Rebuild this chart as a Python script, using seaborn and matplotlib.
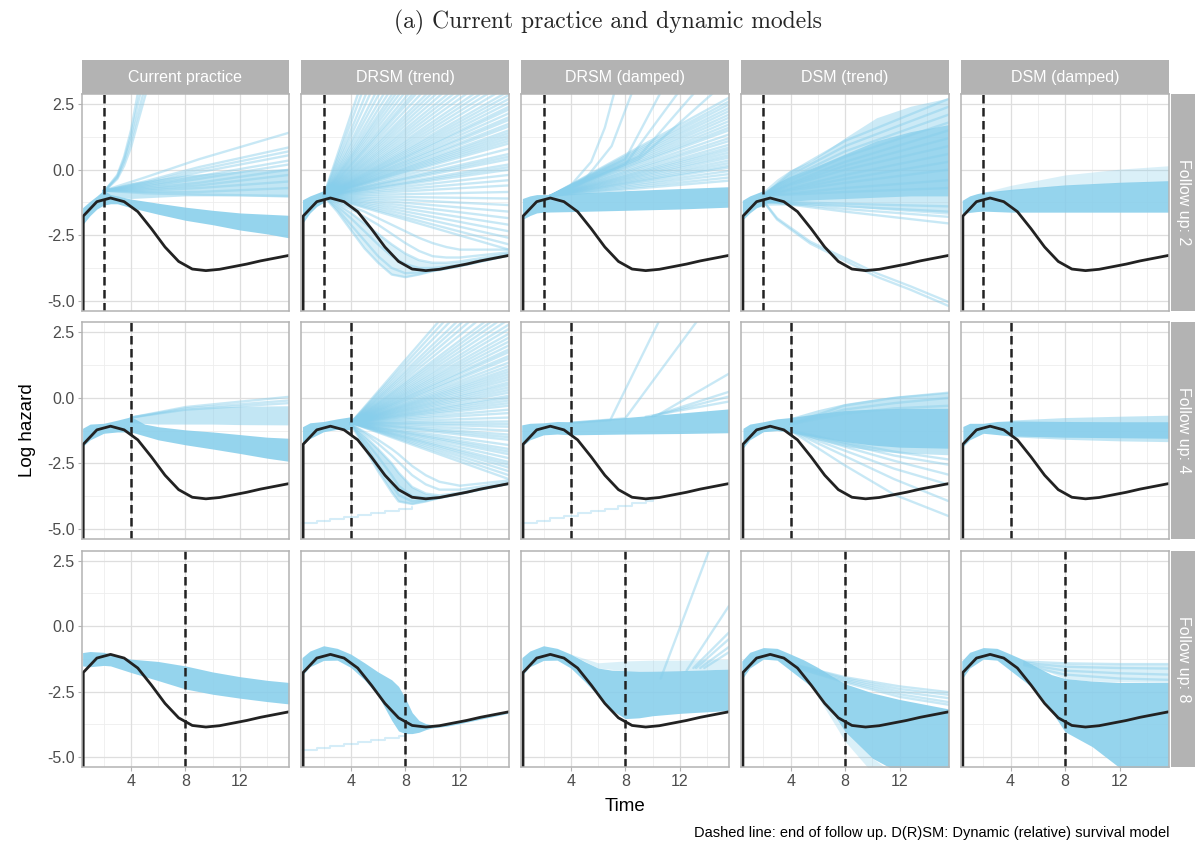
import numpy as np
import pandas as pd
import matplotlib
matplotlib.use("Agg")
import matplotlib.pyplot as plt
import seaborn as sns
from matplotlib.patches import Rectangle

sns.set_theme(style="white")
plt.rcParams['font.family'] = ['Liberation Sans', 'DejaVu Sans']

# ------------------------------------------------------------------ data
MODELS = ["Current practice", "DRSM (trend)", "DRSM (damped)", "DSM (trend)", "DSM (damped)"]
FOLLOWUPS = [2, 4, 8]
X_TICKS = [4, 8, 12]
Y_TICKS = [-5.0, -2.5, 0.0, 2.5]
TITLE = "(a) Current practice and dynamic models"
CAPTION = "Dashed line: end of follow up. D(R)SM: Dynamic (relative) survival model"

# true log hazard (black)
true_t = [0.49, 0.5, 1.5, 2.5, 3.5, 4.5, 5.5, 6.5, 7.5, 8.5, 9.5, 10.5, 11.5, 12.5, 13.5, 14.5, 15.6]
true_y = [-9.0, -1.77, -1.22, -1.08, -1.22, -1.6, -2.25, -2.95, -3.5, -3.79, -3.85, -3.8, -3.7, -3.6, -3.48, -3.38, -3.27]

# ---------------- follow up 2
cp2_band1_t = [0.45, 1, 1.5, 2, 2.5, 3, 4, 6, 8, 10, 12, 14, 15.6]
cp2_band1_lo = [-2.1, -1.75, -1.5, -1.35, -1.3, -1.3, -1.45, -1.7, -1.93, -2.1, -2.3, -2.45, -2.6]
cp2_band1_hi = [-1.45, -1.2, -1.0, -0.78, -0.95, -1.0, -1.12, -1.28, -1.43, -1.55, -1.65, -1.7, -1.74]
cp2_band2_t = [2, 4, 8, 12, 15.6]
cp2_band2_lo = [-0.95, -1.1, -1.0, -1.0, -1.05]
cp2_band2_hi = [-0.78, -0.5, -0.2, -0.05, 0.05]
cp2_fan_t = [2, 5, 9, 15.6]
cp2_fan = [[-0.8, -0.3, 0.4, 1.41], [-0.8, -0.45, 0.1, 0.85], [-0.8, -0.5, 0.0, 0.7],
           [-0.8, -0.55, -0.1, 0.55], [-0.8, -0.6, -0.25, 0.35], [-0.8, -0.65, -0.35, 0.2],
           [-0.8, -0.7, -0.5, 0.0], [-0.8, -0.75, -0.6, -0.2], [-0.8, -0.8, -0.7, -0.45],
           [-0.8, -0.85, -0.85, -0.7], [-0.8, -0.9, -0.95, -1.0]]
cp2_exp_t = [2, 3, 3.5, 4, 4.5, 5.2]
cp2_exp = [[-0.85, -0.3, 0.3, 1.1, 2.1, 3.5], [-0.85, -0.25, 0.4, 1.3, 2.5, 4.0],
           [-0.85, -0.2, 0.5, 1.5, 2.9, 4.5], [-0.85, -0.35, 0.15, 0.85, 1.8, 3.1]]

drt2_pre_t = [0.45, 1, 1.5, 2]
drt2_pre_lo = [-2.05, -1.65, -1.4, -1.25]
drt2_pre_hi = [-1.15, -1.0, -0.9, -0.8]
drt2_ray_t = [2, 15.6]
drt2_ray_start = -1.0
drt2_ray_end = [20, 18, 16, 14.5, 13, 12, 11, 10.2, 9.5, 9.0, 8.5, 8.0, 7.5, 7.1, 6.8, 6.4, 6.0,
                5.7, 5.4, 5.1, 4.8, 4.55, 4.3, 4.05, 3.8, 3.6, 3.4, 3.2, 3.0, 2.85, 2.7, 2.55, 2.4,
                2.3, 2.15, 2.0, 1.9, 1.75, 1.65, 1.5, 1.4, 1.3, 1.2, 1.1, 1.0, 0.8, 0.6, 0.5, 0.4,
                0.2, 0.1, 0.0, -0.2, -0.4, -0.6, -0.85, -1.1, -1.35, -1.6, -1.85, -2.1, -2.35,
                -2.6, -2.85, -3.05]
drt2_low_t = [2, 3, 4, 5, 6, 7, 8, 9, 10, 11, 12, 15.6]
drt2_low = [[-1.0, -1.6, -2.3, -3.0, -3.55, -4.0, -4.1, -4.0, -3.87, -3.78, -3.68, -3.27],
            [-1.0, -1.5, -2.1, -2.7, -3.3, -3.75, -3.95, -3.92, -3.85, -3.77, -3.67, -3.27],
            [-1.0, -1.4, -1.85, -2.35, -2.85, -3.3, -3.6, -3.75, -3.75, -3.7, -3.62, -3.25],
            [-1.0, -1.3, -1.65, -2.05, -2.45, -2.85, -3.2, -3.45, -3.55, -3.55, -3.5, -3.2],
            [-1.0, -1.25, -1.5, -1.8, -2.1, -2.45, -2.8, -3.1, -3.3, -3.35, -3.35, -3.15],
            [-1.0, -1.2, -1.4, -1.6, -1.85, -2.1, -2.35, -2.6, -2.8, -2.95, -3.05, -3.05]]

drd2_band_t = [0.45, 1, 1.5, 2, 4, 8, 12, 15.6]
drd2_band_lo = [-1.9, -1.75, -1.65, -1.62, -1.6, -1.55, -1.5, -1.43]
drd2_band_hi = [-1.1, -1.0, -0.95, -0.95, -0.9, -0.8, -0.72, -0.65]
drd2_fan_t = [2.5, 15.6]
drd2_fan_start = -1.0
drd2_fan_end = [2.74, 2.6, 2.48, 2.35, 2.23, 2.1, 1.98, 1.85, 1.72, 1.6, 1.5, 1.34, 1.2, 1.09,
                0.95, 0.84, 0.75, 0.65, 0.55, 0.46, 0.35, 0.25, 0.15, 0.08, -0.05, -0.17, -0.3, -0.42]
drd2_steep = [([2.5, 4, 5.5, 6.5, 7.2], [-1.0, -0.6, 0.3, 1.6, 2.95]),
              ([2.5, 5, 7, 8.5], [-1.0, -0.4, 0.9, 2.95]),
              ([2.5, 8, 10.6], [-1.0, 0.4, 2.95]),
              ([2.5, 8, 11.9], [-1.0, 0.2, 2.95]),
              ([2.5, 9, 13.1], [-1.0, 0.5, 2.95]),
              ([2.5, 9, 14.5], [-1.0, 0.4, 2.95])]

dst2_pre_t = [0.45, 1, 1.5, 2]
dst2_pre_lo = [-1.93, -1.65, -1.45, -1.36]
dst2_pre_hi = [-1.17, -1.0, -0.9, -0.8]
dst2_fan_t = [2, 3, 4, 5.5, 8, 10.3, 12.8, 15.6]
dst2_outer_lo = [-1.36, -1.35, -1.35, -1.35, -1.4, -1.5, -1.6, -1.7]
dst2_outer_hi = [-0.8, -0.35, 0.0, 0.34, 1.22, 1.98, 2.42, 2.74]
dst2_core_lo = [-1.3, -1.25, -1.2, -1.15, -1.1, -1.05, -1.0, -1.0]
dst2_core_hi = [-0.85, -0.5, -0.25, 0.05, 0.6, 1.1, 1.45, 1.72]
dst2_curve_t = [2, 4, 8, 15.6]
dst2_curves = [[-1.0, -0.1, 1.1, 2.7], [-1.0, -0.2, 0.9, 2.4], [-1.0, -0.3, 0.7, 2.1],
               [-1.0, -0.4, 0.5, 1.8], [-1.0, -0.5, 0.3, 1.5], [-1.0, -0.55, 0.15, 1.2],
               [-1.0, -0.6, 0.0, 0.9], [-1.0, -0.7, -0.2, 0.6], [-1.0, -0.75, -0.35, 0.3],
               [-1.0, -0.8, -0.5, 0.0], [-1.0, -0.9, -0.7, -0.4], [-1.0, -0.95, -0.85, -0.7]]
dst2_down_t = [2, 3, 5.45, 7.9, 10.3, 12.8, 15.6]
dst2_down = [[-1.2, -1.9, -2.82, -3.45, -4.08, -4.58, -5.2],
             [-1.2, -1.85, -2.75, -3.35, -3.95, -4.45, -5.05]]
dst2_lines_t = [2, 8, 15.6]
dst2_lines = [[-1.2, -1.3, -1.4], [-1.2, -1.4, -1.6], [-1.2, -1.5, -1.8], [-1.2, -1.6, -2.05]]

dsd2_band_t = [0.45, 1, 1.5, 2, 4, 8, 12, 15.6]
dsd2_band_lo = [-1.68, -1.63, -1.6, -1.58, -1.62, -1.62, -1.62, -1.62]
dsd2_band_hi = [-1.17, -1.0, -0.92, -0.86, -0.75, -0.58, -0.48, -0.42]
dsd2_light_t = [2, 4, 8, 12, 15.6]
dsd2_light_lo = [-0.9, -0.8, -0.6, -0.5, -0.45]
dsd2_light_hi = [-0.86, -0.6, -0.2, 0.02, 0.15]

# ---------------- follow up 4
cp4_band1_t = [0.45, 1, 2, 3, 4, 5, 6, 8, 10, 12, 14, 15.6]
cp4_band1_lo = [-1.86, -1.6, -1.35, -1.3, -1.3, -1.45, -1.6, -1.79, -1.95, -2.12, -2.3, -2.42]
cp4_band1_hi = [-1.16, -1.0, -0.97, -0.85, -0.72, -1.0, -1.1, -1.22, -1.3, -1.4, -1.5, -1.54]
cp4_band2_t = [4, 6, 8, 10, 12, 15.6]
cp4_band2_lo = [-0.95, -1.0, -1.0, -1.0, -1.02, -1.03]
cp4_band2_hi = [-0.72, -0.55, -0.42, -0.35, -0.32, -0.3]
cp4_fan_t = [4, 8, 15.6]
cp4_fan = [[-0.75, -0.35, 0.04], [-0.75, -0.4, -0.1], [-0.75, -0.45, -0.2]]

drt4_pre_t = [0.45, 1, 2, 3, 4]
drt4_pre_lo = [-1.8, -1.55, -1.29, -1.2, -1.22]
drt4_pre_hi = [-1.1, -0.95, -0.9, -0.8, -0.72]
drt4_ray_t = [4, 15.6]
drt4_ray_start = -0.95
drt4_ray_end = [6.0, 5.6, 5.2, 4.8, 4.5, 4.2, 3.9, 3.6, 3.4, 3.2, 3.0, 2.8, 2.63, 2.45, 2.3, 2.15,
                2.0, 1.85, 1.75, 1.6, 1.5, 1.35, 1.22, 1.1, 1.0, 0.9, 0.8, 0.7, 0.59, 0.5, 0.4, 0.3,
                0.2, 0.08, 0.0, -0.1, -0.2, -0.3, -0.45, -0.58, -0.75, -0.9, -1.0, -1.1, -1.25,
                -1.4, -1.5, -1.6, -1.8, -1.95, -2.05, -2.15, -2.3, -2.45, -2.55, -2.66, -2.8,
                -2.95, -3.1]
drt4_low_t = [4, 5, 6, 7, 7.5, 8.5, 9.5, 10.5, 12, 15.6]
drt4_low = [[-1.0, -1.9, -2.8, -3.6, -3.95, -4.05, -3.95, -3.82, -3.66, -3.27],
            [-1.0, -1.75, -2.55, -3.3, -3.7, -3.95, -3.9, -3.81, -3.66, -3.27],
            [-1.0, -1.6, -2.25, -2.95, -3.35, -3.75, -3.82, -3.8, -3.65, -3.27],
            [-1.0, -1.45, -1.95, -2.5, -2.85, -3.4, -3.65, -3.72, -3.62, -3.27],
            [-1.0, -1.35, -1.75, -2.2, -2.45, -2.95, -3.3, -3.5, -3.5, -3.22],
            [-1.0, -1.3, -1.6, -1.95, -2.15, -2.6, -2.95, -3.2, -3.35, -3.15]]
drt4_stair_t = [0.45, 1.5, 2.5, 3.5, 4.5, 5.5, 6.5, 7.5, 8.5]
drt4_stair_y = [-4.76, -4.7, -4.62, -4.55, -4.47, -4.4, -4.32, -4.24, -4.15]

drd4_band_t = [0.4, 1, 2, 3, 4, 8, 12, 15.6]
drd4_band_lo = [-1.86, -1.6, -1.41, -1.38, -1.41, -1.38, -1.36, -1.33]
drd4_band_hi = [-1.03, -0.97, -0.95, -0.9, -0.91, -0.75, -0.58, -0.42]
drd4_lines = [([10.5, 15.6], [-0.62, 0.92]), ([10, 15.6], [-0.7, 0.23]),
              ([10, 15.6], [-0.7, 0.05]), ([9.5, 15.6], [-0.72, -0.14]),
              ([4, 6.9, 10.5], [-0.95, -0.85, 2.95]), ([4, 8, 13.3], [-0.95, -0.78, 2.95])]
drd4_stair_t = [0.4, 1.5, 2.5, 3.5, 4.5, 5.5, 6.5, 7.5, 8.5, 9.5, 10.0]
drd4_stair_y = [-4.76, -4.68, -4.6, -4.5, -4.41, -4.32, -4.22, -4.12, -4.02, -3.92, -3.88]

dst4_band_t = [0.5, 1, 2, 3, 4, 6, 8, 10, 12, 15.6]
dst4_band_lo = [-1.92, -1.6, -1.29, -1.25, -1.3, -1.5, -1.67, -1.8, -1.88, -1.92]
dst4_band_hi = [-1.16, -1.0, -0.91, -0.8, -0.75, -0.6, -0.48, -0.43, -0.4, -0.4]
dst4_light_t = [4, 6, 8, 10, 12, 15.6]
dst4_light_lo = [-1.3, -1.6, -1.85, -2.0, -2.1, -2.17]
dst4_light_hi = [-0.75, -0.45, -0.21, -0.05, 0.08, 0.23]
dst4_lines_t = [4, 7.9, 11.6, 15.6]
dst4_lines = [[-1.25, -2.55, -3.69, -4.51], [-1.25, -2.2, -3.1, -3.94], [-1.25, -2.0, -2.7, -3.31],
              [-1.25, -1.85, -2.4, -2.93], [-1.25, -1.75, -2.2, -2.55], [-1.25, -1.7, -2.05, -2.35],
              [-1.0, -0.3, 0.0, 0.2], [-1.0, -0.45, -0.2, 0.0], [-1.0, -0.6, -0.4, -0.3]]

dsd4_band_t = [0.5, 1, 2, 3, 3.9, 8, 12, 15.6]
dsd4_band_lo = [-1.86, -1.6, -1.35, -1.4, -1.45, -1.5, -1.52, -1.54]
dsd4_band_hi = [-1.09, -0.97, -0.97, -0.9, -0.88, -0.9, -0.91, -0.91]
dsd4_light_t = [3.9, 8, 12, 15.6]
dsd4_light_lo = [-1.48, -1.58, -1.64, -1.67]
dsd4_light_hi = [-0.85, -0.75, -0.7, -0.66]

# ---------------- follow up 8
cp8_band_t = [0.45, 1, 2, 2.5, 4, 6, 8, 10, 12, 14, 15.6]
cp8_band_lo = [-1.52, -1.55, -1.5, -1.52, -1.77, -2.08, -2.4, -2.6, -2.75, -2.88, -2.97]
cp8_band_hi = [-1.01, -0.97, -1.0, -1.07, -1.26, -1.35, -1.52, -1.75, -1.93, -2.07, -2.15]

drt8_band_t = [0.42, 1, 2, 3, 4, 5, 6, 7, 7.5, 8, 8.5, 9, 9.5, 10, 11, 12, 15.6]
drt8_band_hi = [-1.2, -0.95, -0.75, -0.85, -1.07, -1.4, -1.75, -2.05, -2.3, -2.75, -3.3, -3.6, -3.72, -3.78, -3.72, -3.6, -3.22]
drt8_band_lo = [-1.89, -1.55, -1.31, -1.3, -1.58, -2.05, -2.65, -3.6, -4.0, -4.1, -4.1, -4.05, -3.95, -3.88, -3.82, -3.72, -3.32]
drt8_stair_t = [0.45, 1.5, 2.5, 3.5, 4.5, 5.5, 6.5, 7.5, 8.0]
drt8_stair_y = [-4.73, -4.66, -4.58, -4.5, -4.42, -4.35, -4.28, -4.2, -4.16]

drd8_band_t = [0.42, 1, 2, 3, 4, 5, 6, 7, 8, 9, 10, 12, 15.6]
drd8_band_hi = [-1.2, -0.95, -0.75, -0.85, -1.07, -1.35, -1.6, -1.68, -1.7, -1.72, -1.72, -1.7, -1.64]
drd8_band_lo = [-1.89, -1.55, -1.31, -1.3, -1.6, -2.1, -2.65, -3.2, -3.53, -3.5, -3.42, -3.33, -3.22]
drd8_light_t = [4, 6, 8, 10, 12, 15.6]
drd8_light_lo = [-1.07, -1.6, -1.7, -1.72, -1.7, -1.64]
drd8_light_hi = [-1.07, -1.4, -1.33, -1.3, -1.3, -1.26]
drd8_lines = [([10.6, 14.2], [-2.0, 2.95]), ([12.5, 15.6], [-1.7, 0.76]), ([13.0, 15.6], [-1.6, -0.25]),
              ([13.2, 15.6], [-1.6, -0.5]), ([13.5, 15.6], [-1.6, -0.8]), ([13.8, 15.6], [-1.6, -1.0])]

dst8_band_t = [0.42, 1, 2, 3, 4, 5, 6, 7, 8, 10, 12, 14, 15.6]
dst8_band_hi = [-1.33, -1.0, -0.82, -0.85, -1.07, -1.3, -1.58, -1.9, -2.2, -2.55, -2.8, -3.0, -3.16]
dst8_band_lo = [-2.03, -1.6, -1.26, -1.3, -1.7, -2.1, -2.52, -3.25, -4.03, -5.04, -5.6, -6.0, -6.5]
dst8_light_t = [6, 8, 10, 11]
dst8_light_lo = [-2.7, -4.4, -5.6, -6.0]
dst8_light_hi = [-2.52, -4.03, -5.04, -5.4]
dst8_lines_t = [4.5, 8, 12, 15.6]
dst8_lines = [[-1.5, -1.95, -2.3, -2.52], [-1.5, -2.0, -2.4, -2.62], [-1.55, -2.05, -2.5, -2.75],
              [-1.6, -2.1, -2.6, -2.9], [-1.6, -2.15, -2.7, -3.0]]

dsd8_band_t = [0.42, 1, 2, 3, 4, 5, 6, 7, 8, 10, 12, 14, 15.6]
dsd8_band_hi = [-1.33, -1.0, -0.82, -0.85, -1.07, -1.3, -1.58, -1.85, -2.0, -2.1, -2.15, -2.15, -2.15]
dsd8_band_lo = [-2.03, -1.6, -1.26, -1.3, -1.7, -2.1, -2.52, -3.25, -4.03, -4.6, -5.4, -6.0, -6.0]
dsd8_light_t = [5, 6, 8, 10, 15.6]
dsd8_light_lo = [-1.3, -1.58, -2.0, -2.1, -2.15]
dsd8_light_hi = [-1.3, -1.4, -1.42, -1.45, -1.45]
dsd8_lines_t = [5, 8, 12, 15.6]
dsd8_lines = [[-1.35, -1.42, -1.45, -1.45], [-1.4, -1.55, -1.6, -1.62],
              [-1.45, -1.7, -1.8, -1.85], [-1.5, -1.85, -2.0, -2.05]]

# ------------------------------------------------------------------ assemble
DENSE, MID, LIGHT = 0.88, 0.5, 0.3


def rows(t, ys):
    return [(t, y) for y in ys]


def rays(t, start, ends):
    return [(t, [start, e]) for e in ends]


PANELS = {
    (2, MODELS[0]): dict(bands=[(cp2_band1_t, cp2_band1_lo, cp2_band1_hi, DENSE),
                                (cp2_band2_t, cp2_band2_lo, cp2_band2_hi, MID)],
                         lines=rows(cp2_fan_t, cp2_fan) + rows(cp2_exp_t, cp2_exp)),
    (2, MODELS[1]): dict(bands=[(drt2_pre_t, drt2_pre_lo, drt2_pre_hi, DENSE),
                                (drt2_low_t, drt2_low[0], drt2_low[3], LIGHT)],
                         lines=rays(drt2_ray_t, drt2_ray_start, drt2_ray_end) + rows(drt2_low_t, drt2_low)),
    (2, MODELS[2]): dict(bands=[(drd2_band_t, drd2_band_lo, drd2_band_hi, DENSE)],
                         lines=rays(drd2_fan_t, drd2_fan_start, drd2_fan_end) + drd2_steep),
    (2, MODELS[3]): dict(bands=[(dst2_pre_t, dst2_pre_lo, dst2_pre_hi, DENSE),
                                (dst2_fan_t, dst2_outer_lo, dst2_outer_hi, 0.42),
                                (dst2_fan_t, dst2_core_lo, dst2_core_hi, 0.7)],
                         lines=rows(dst2_curve_t, dst2_curves) + rows(dst2_down_t, dst2_down)
                         + rows(dst2_lines_t, dst2_lines)),
    (2, MODELS[4]): dict(bands=[(dsd2_band_t, dsd2_band_lo, dsd2_band_hi, DENSE),
                                (dsd2_light_t, dsd2_light_lo, dsd2_light_hi, LIGHT)],
                         lines=[]),
    (4, MODELS[0]): dict(bands=[(cp4_band1_t, cp4_band1_lo, cp4_band1_hi, DENSE),
                                (cp4_band2_t, cp4_band2_lo, cp4_band2_hi, MID)],
                         lines=rows(cp4_fan_t, cp4_fan)),
    (4, MODELS[1]): dict(bands=[(drt4_pre_t, drt4_pre_lo, drt4_pre_hi, DENSE),
                                (drt4_low_t, drt4_low[0], drt4_low[3], MID)],
                         lines=rays(drt4_ray_t, drt4_ray_start, drt4_ray_end) + rows(drt4_low_t, drt4_low),
                         stairs=[(drt4_stair_t, drt4_stair_y)]),
    (4, MODELS[2]): dict(bands=[(drd4_band_t, drd4_band_lo, drd4_band_hi, DENSE)],
                         lines=drd4_lines, stairs=[(drd4_stair_t, drd4_stair_y)]),
    (4, MODELS[3]): dict(bands=[(dst4_light_t, dst4_light_lo, dst4_light_hi, MID),
                                (dst4_band_t, dst4_band_lo, dst4_band_hi, DENSE)],
                         lines=rows(dst4_lines_t, dst4_lines)),
    (4, MODELS[4]): dict(bands=[(dsd4_light_t, dsd4_light_lo, dsd4_light_hi, MID),
                                (dsd4_band_t, dsd4_band_lo, dsd4_band_hi, DENSE)],
                         lines=[]),
    (8, MODELS[0]): dict(bands=[(cp8_band_t, cp8_band_lo, cp8_band_hi, DENSE)], lines=[]),
    (8, MODELS[1]): dict(bands=[(drt8_band_t, drt8_band_lo, drt8_band_hi, DENSE)], lines=[],
                         stairs=[(drt8_stair_t, drt8_stair_y)]),
    (8, MODELS[2]): dict(bands=[(drd8_band_t, drd8_band_lo, drd8_band_hi, DENSE),
                                (drd8_light_t, drd8_light_lo, drd8_light_hi, LIGHT)],
                         lines=drd8_lines),
    (8, MODELS[3]): dict(bands=[(dst8_band_t, dst8_band_lo, dst8_band_hi, DENSE),
                                (dst8_light_t, dst8_light_lo, dst8_light_hi, LIGHT)],
                         lines=rows(dst8_lines_t, dst8_lines)),
    (8, MODELS[4]): dict(bands=[(dsd8_band_t, dsd8_band_lo, dsd8_band_hi, DENSE),
                                (dsd8_light_t, dsd8_light_lo, dsd8_light_hi, LIGHT)],
                         lines=rows(dsd8_lines_t, dsd8_lines)),
}

# ------------------------------------------------------------------ style
SKY = "#87CEEB"
BLACK = "#222222"
STRIP = "#B3B3B3"
GRID_MAJ = "#DEDEDE"
GRID_MIN = "#EEEEEE"
TXT = "#4D4D4D"

W, H = 1195, 846
fig = plt.figure(figsize=(W / 100, H / 100), dpi=100)


def fx(px):
    return px / W


def fy(py):
    return 1 - py / H


PANEL_LEFT0, PANEL_DX, PANEL_W = 81.5, 219.9, 207.5
PANEL_TOP0, PANEL_DY, PANEL_H = 94.3, 228.2, 216.3
XLIM = (0.37, 15.6)
YLIM = (-5.375, 2.875)


def draw_lines(ax, lines, alpha, lw):
    recs = []
    for i, (t, y) in enumerate(lines):
        for tt, yy in zip(t, y):
            recs.append((i, tt, yy))
    if not recs:
        return
    df = pd.DataFrame(recs, columns=["unit", "t", "y"])
    sns.lineplot(data=df, x="t", y="y", units="unit", estimator=None, sort=False,
                 color=SKY, alpha=alpha, lw=lw, ax=ax, legend=False)


for r, fu in enumerate(FOLLOWUPS):
    for c, model in enumerate(MODELS):
        left = PANEL_LEFT0 + c * PANEL_DX
        top = PANEL_TOP0 + r * PANEL_DY
        ax = fig.add_axes([fx(left), fy(top + PANEL_H), PANEL_W / W, PANEL_H / H])
        ax.set_facecolor("white")
        spec = PANELS[(fu, model)]

        # grid
        for xv in [2, 6, 10, 14]:
            ax.axvline(xv, color=GRID_MIN, lw=0.6, zorder=0)
        for yv in [-3.75, -1.25, 1.25]:
            ax.axhline(yv, color=GRID_MIN, lw=0.6, zorder=0)
        for xv in X_TICKS:
            ax.axvline(xv, color=GRID_MAJ, lw=0.9, zorder=0)
        for yv in Y_TICKS:
            ax.axhline(yv, color=GRID_MAJ, lw=0.9, zorder=0)

        for (t, lo, hi, a) in spec["bands"]:
            ax.fill_between(t, lo, hi, color=SKY, alpha=a, lw=0, zorder=1)
        draw_lines(ax, spec.get("lines", []), 0.45, 1.7)
        for (t, y) in spec.get("stairs", []):
            sdf = pd.DataFrame({"t": t, "y": y})
            sns.lineplot(data=sdf, x="t", y="y", estimator=None, sort=False, color=SKY,
                         alpha=0.35, lw=1.5, drawstyle="steps-post", ax=ax, legend=False)

        tdf = pd.DataFrame({"t": true_t, "y": true_y})
        sns.lineplot(data=tdf, x="t", y="y", estimator=None, sort=False, color=BLACK,
                     lw=2.0, ax=ax, legend=False, zorder=5)
        ax.axvline(fu, color=BLACK, lw=1.8, dashes=(3.4, 1.8), zorder=6)

        ax.set_xlim(*XLIM)
        ax.set_ylim(*YLIM)
        ax.set_xticks(X_TICKS)
        ax.set_yticks(Y_TICKS)
        ax.set_xlabel("")
        ax.set_ylabel("")
        ax.tick_params(axis="both", length=3, width=0.8, color=STRIP, labelcolor=TXT,
                       labelsize=11.5, pad=2, direction="out")
        ax.tick_params(bottom=(r == 2), left=(c == 0), labelbottom=(r == 2), labelleft=(c == 0))
        if c == 0:
            ax.set_yticklabels([f"{v:.1f}" for v in Y_TICKS])
        if r == 2:
            ax.set_xticklabels([str(v) for v in X_TICKS])
        for sp in ax.spines.values():
            sp.set_visible(True)
            sp.set_color(STRIP)
            sp.set_linewidth(1.1)
            sp.set_zorder(10)

        # top strips
        if r == 0:
            fig.add_artist(Rectangle((fx(left), fy(top)), PANEL_W / W, 34.3 / H,
                                     transform=fig.transFigure, facecolor=STRIP, edgecolor="none"))
            fig.text(fx(left + PANEL_W / 2), fy(top - 17.2), model, color="white",
                     fontsize=11.5, ha="center", va="center")
        # right strips
        if c == 4:
            sx = left + PANEL_W + 2
            fig.add_artist(Rectangle((fx(sx), fy(top + PANEL_H)), (W - sx) / W, PANEL_H / H,
                                     transform=fig.transFigure, facecolor=STRIP, edgecolor="none"))
            fig.text(fx(sx + 13), fy(top + PANEL_H / 2), f"Follow up: {fu}", color="white",
                     fontsize=11.5, ha="center", va="center", rotation=-90)

fig.text(fx(608), fy(22), TITLE, fontsize=17, family="cmr10", ha="center", va="center")
fig.text(fx(625), fy(806), "Time", fontsize=13.5, ha="center", va="center", color="black")
fig.text(fx(28), fy(430), "Log hazard", fontsize=13.5, ha="center", va="center",
         rotation=90, color="black")
fig.text(fx(1170), fy(833), CAPTION, fontsize=10.5, ha="right", va="center", color="black")

fig.savefig("out.png", dpi=100, facecolor="white")
